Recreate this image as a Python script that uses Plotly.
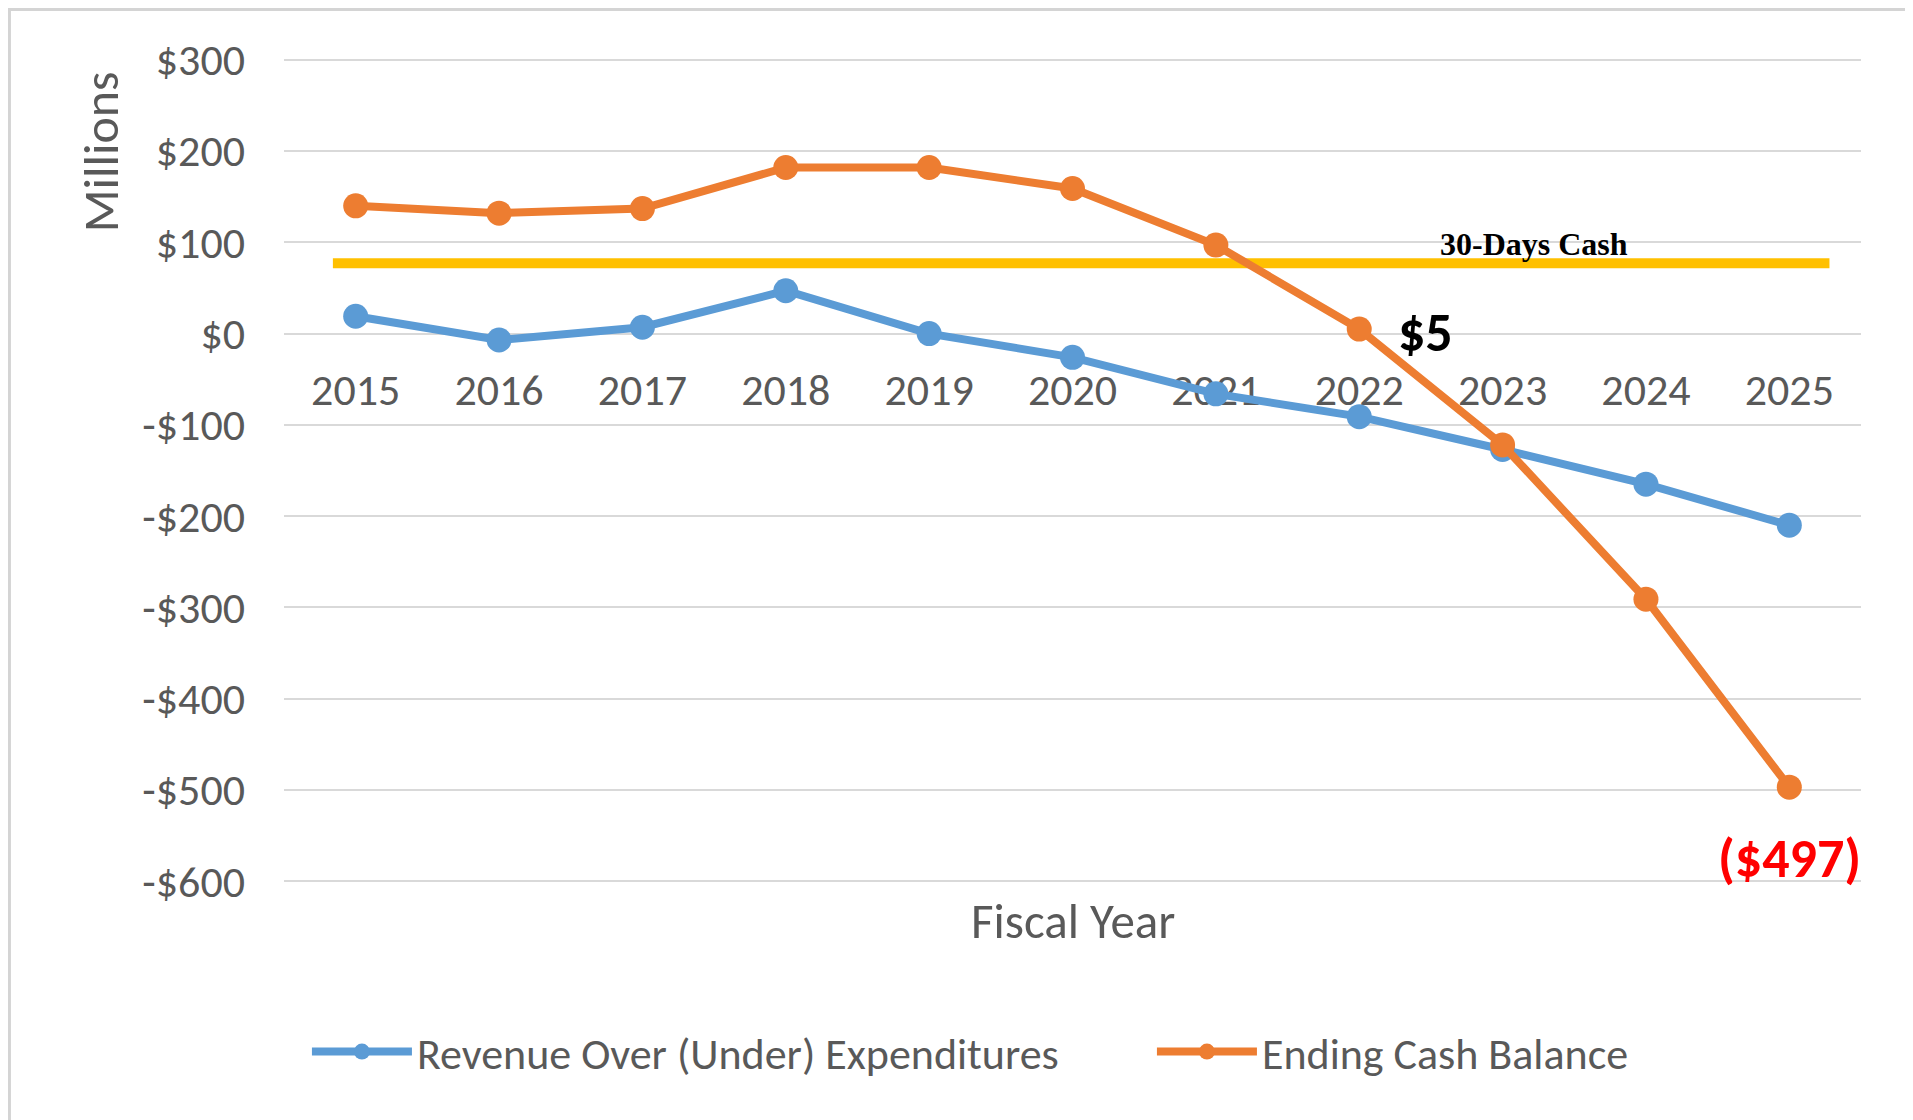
import plotly.graph_objects as go

years = [2015, 2016, 2017, 2018, 2019, 2020, 2021, 2022, 2023, 2024, 2025]
revenue_over_under = [19, -7, 7, 47, 0, -26, -66, -91, -127, -165, -210]
ending_cash_balance = [140, 132, 137, 182, 182, 159, 97, 5, -122, -291, -497]
thirty_days_cash = 77

y_tick_vals = [300, 200, 100, 0, -100, -200, -300, -400, -500, -600]
y_tick_text = ["$300", "$200", "$100", "$0", "-$100", "-$200", "-$300", "-$400", "-$500", "-$600"]

BLUE = "#5B9BD5"
ORANGE = "#ED7D31"
YELLOW = "#FFC000"
GREY_TXT = "#595959"
GRID = "#D9D9D9"
FONT = "Carlito, Calibri, Lato, sans-serif"

Y_MIN, Y_MAX = -602, 302

fig = go.Figure()
fig.add_trace(go.Scatter(
    x=years, y=revenue_over_under, mode="lines+markers",
    name="Revenue Over (Under) Expenditures",
    line=dict(color=BLUE, width=8), marker=dict(color=BLUE, size=25),
))
fig.add_trace(go.Scatter(
    x=years, y=ending_cash_balance, mode="lines+markers",
    name="Ending Cash Balance",
    line=dict(color=ORANGE, width=8), marker=dict(color=ORANGE, size=25),
))

# 30-day cash threshold line
fig.add_shape(type="line", xref="paper", yref="y", x0=0.031, x1=0.980,
              y0=thirty_days_cash, y1=thirty_days_cash,
              line=dict(color=YELLOW, width=10), layer="below")

# outer frame
fig.add_shape(type="rect", xref="paper", yref="paper",
              x0=-0.1741, x1=1.0317, y0=-0.293, y1=1.0588,
              line=dict(color="#D4D4D4", width=3))

fig.add_annotation(x=2023.22, y=98, xref="x", yref="y", text="<b>30-Days Cash</b>",
                   showarrow=False, xanchor="center", yanchor="middle",
                   font=dict(family="Liberation Serif, Times New Roman, serif", size=32, color="black"))
fig.add_annotation(x=years[7], y=ending_cash_balance[7], xref="x", yref="y",
                   text="<b>$%d</b>" % ending_cash_balance[7], showarrow=False,
                   xanchor="center", yanchor="middle", xshift=66, yshift=-4,
                   font=dict(family=FONT, size=54, color="black"))
fig.add_annotation(x=years[10], y=ending_cash_balance[10], xref="x", yref="y",
                   text="<b>($%d)</b>" % abs(ending_cash_balance[10]), showarrow=False,
                   xanchor="center", yanchor="middle", yshift=-72,
                   font=dict(family=FONT, size=54, color="#FF0000"))
fig.add_annotation(x=-0.1167, y=0.887, xref="paper", yref="paper", text="Millions",
                   textangle=-90, showarrow=False, xanchor="center", yanchor="middle",
                   font=dict(family=FONT, size=50, color=GREY_TXT))
fig.add_annotation(x=0.5, y=-0.046, xref="paper", yref="paper", text="Fiscal Year",
                   showarrow=False, xanchor="center", yanchor="middle",
                   font=dict(family=FONT, size=49, color=GREY_TXT))

fig.update_layout(
    width=2100, height=1112,
    margin=dict(l=276, r=247, t=50, b=237),
    paper_bgcolor="white", plot_bgcolor="white",
    font=dict(family=FONT, color=GREY_TXT),
    showlegend=True,
    legend=dict(orientation="h", x=1.0862, xanchor="right", y=-0.2048, yanchor="middle",
                font=dict(family=FONT, size=44, color=GREY_TXT),
                itemwidth=100, entrywidth=730, entrywidthmode="pixels"),
    xaxis=dict(range=[2014.5, 2025.5], tickmode="array", tickvals=years,
               ticktext=[str(y) for y in years], showgrid=False, zeroline=False,
               showline=False, anchor="free", position=(0 - Y_MIN) / (Y_MAX - Y_MIN),
               ticks="outside", ticklen=0, ticklabelstandoff=18,
               tickfont=dict(family=FONT, size=44, color=GREY_TXT),
               layer="below traces", fixedrange=True),
    yaxis=dict(range=[Y_MIN, Y_MAX], tickmode="array", tickvals=y_tick_vals, ticktext=y_tick_text,
               showgrid=True, gridcolor=GRID, gridwidth=2,
               zeroline=True, zerolinecolor=GRID, zerolinewidth=2,
               showline=False, ticks="", ticklabelstandoff=38,
               tickfont=dict(family=FONT, size=44, color=GREY_TXT),
               fixedrange=True),
)

fig.write_html("out.html")
